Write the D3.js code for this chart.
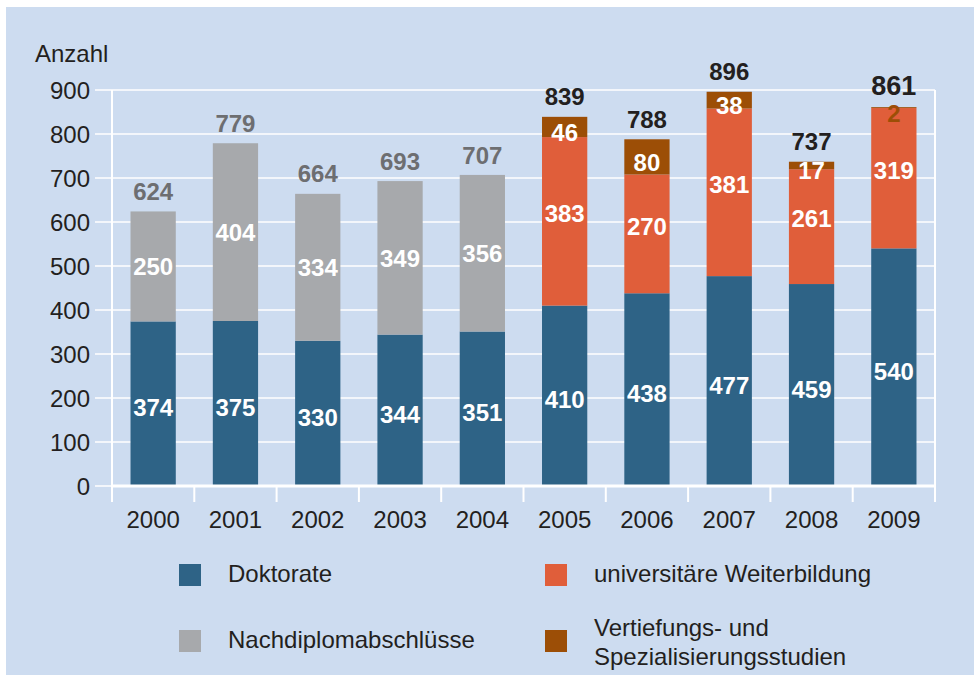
<!DOCTYPE html>
<html><head><meta charset="utf-8">
<script src="https://cdn.jsdelivr.net/npm/d3@7"></script>
<style>body{margin:0;background:#fff}svg{display:block}text{font-family:"Liberation Sans",Arial,Helvetica,sans-serif}</style>
</head><body><svg id="c" width="974" height="677"></svg>
<script>
const years = ["2000","2001","2002","2003","2004","2005","2006","2007","2008","2009"];
const doktorate = [374,375,330,344,351,410,438,477,459,540];
const nachdiplom = [250,404,334,349,356,0,0,0,0,0];
const weiterbildung = [0,0,0,0,0,383,270,381,261,319];
const vertiefung = [0,0,0,0,0,46,80,38,17,2];
const yTicks = [0,100,200,300,400,500,600,700,800,900];
const seriesNames = ["Doktorate","Nachdiplomabschlüsse","universitäre Weiterbildung","Vertiefungs- und Spezialisierungsstudien"];
const colors = ["#2E6386","#A7A9AC","#E05E3A","#9C4E06"];
const labelDy = [4,0,-8,5];

const svg = d3.select("#c");
svg.append("rect").attr("x",6).attr("y",7).attr("width",968).attr("height",668).attr("fill","#CDDCF0");

const x = d3.scaleBand().domain(years).range([112,935]).paddingInner(0.45).paddingOuter(0.225);
const y = d3.scaleLinear().domain([0,900]).range([486,90]);
const dark = "#231F20";
const fs = 24;

// gridlines + left ticks
svg.append("g").selectAll("line").data(yTicks).join("line")
  .attr("x1",95).attr("x2",935).attr("y1",d=>y(d)).attr("y2",d=>y(d))
  .attr("stroke","#fff").attr("stroke-width",1.5);
// vertical left/right lines
svg.append("line").attr("x1",112).attr("x2",112).attr("y1",y(900)).attr("y2",502).attr("stroke","#fff").attr("stroke-width",2);
svg.append("line").attr("x1",935).attr("x2",935).attr("y1",y(900)).attr("y2",502).attr("stroke","#fff").attr("stroke-width",2);
// category boundary ticks
const gap = (x.step()-x.bandwidth())/2;
svg.append("g").selectAll("line").data(years.slice(1)).join("line")
  .attr("x1",d=>x(d)-gap).attr("x2",d=>x(d)-gap)
  .attr("y1",486).attr("y2",502).attr("stroke","#fff").attr("stroke-width",2);

// y tick labels
svg.append("g").selectAll("text").data(yTicks).join("text")
  .attr("x",90).attr("y",d=>y(d)).attr("dy","0.36em").attr("text-anchor","end")
  .attr("font-size",fs).attr("fill",dark).text(d=>d);
svg.append("text").attr("x",35).attr("y",62).attr("font-size",fs).attr("fill",dark).text("Anzahl");

// stacks
const table = years.map((yr,i)=>({year:yr, s0:doktorate[i], s1:nachdiplom[i], s2:weiterbildung[i], s3:vertiefung[i]}));
const stack = d3.stack().keys(["s0","s1","s2","s3"])(table);
const gBars = svg.append("g");
stack.forEach((layer,li)=>{
  gBars.append("g").attr("fill",colors[li]).selectAll("rect").data(layer.filter(d=>d[1]-d[0]>0)).join("rect")
    .attr("x",d=>x(d.data.year)).attr("width",x.bandwidth())
    .attr("y",d=>y(d[1])).attr("height",d=>y(d[0])-y(d[1]));
});
// bottom axis line
svg.append("line").attr("x1",111).attr("x2",936).attr("y1",486).attr("y2",486).attr("stroke","#fff").attr("stroke-width",3);

// segment labels
stack.forEach((layer,li)=>{
  svg.append("g").selectAll("text").data(layer.filter(d=>d[1]-d[0]>0)).join("text")
    .attr("x",d=>x(d.data.year)+x.bandwidth()/2)
    .attr("y",d=>(y(d[0])+y(d[1]))/2+labelDy[li]+((d[1]-d[0])<10?1:0)).attr("dy","0.36em")
    .attr("text-anchor","middle").attr("font-size",fs).attr("font-weight","bold")
    .attr("fill",d=>(d[1]-d[0])<10?colors[3]:"#fff")
    .text(d=>d[1]-d[0]);
});
// totals
svg.append("g").selectAll("text").data(table).join("text")
  .attr("x",d=>x(d.year)+x.bandwidth()/2)
  .attr("y",d=>y(d.s0+d.s1+d.s2+d.s3)-(d.year==="2009"?22:20)).attr("dy","0.36em")
  .attr("text-anchor","middle").attr("font-weight","bold")
  .attr("font-size",d=>d.year==="2009"?27:fs)
  .attr("fill",d=>d.s1>0?"#6D6E71":dark)
  .text(d=>d.s0+d.s1+d.s2+d.s3);

// x labels
svg.append("g").selectAll("text").data(years).join("text")
  .attr("x",d=>x(d)+x.bandwidth()/2).attr("y",528).attr("text-anchor","middle")
  .attr("font-size",fs).attr("fill",dark).text(d=>d);

// legend
const leg = [
  {i:0, sx:179, sy:564, lines:[{t:seriesNames[0],y:582}]},
  {i:1, sx:179, sy:630, lines:[{t:seriesNames[1],y:648}]},
  {i:2, sx:545, sy:564, lines:[{t:seriesNames[2],y:582}]},
  {i:3, sx:545, sy:630, lines:[{t:"Vertiefungs- und",y:636},{t:"Spezialisierungsstudien",y:665}]}
];
leg.forEach(l=>{
  svg.append("rect").attr("x",l.sx).attr("y",l.sy).attr("width",22).attr("height",22).attr("fill",colors[l.i]);
  l.lines.forEach(ln=>svg.append("text").attr("x",l.sx+49).attr("y",ln.y).attr("font-size",fs).attr("fill",dark).text(ln.t));
});
</script></body></html>
